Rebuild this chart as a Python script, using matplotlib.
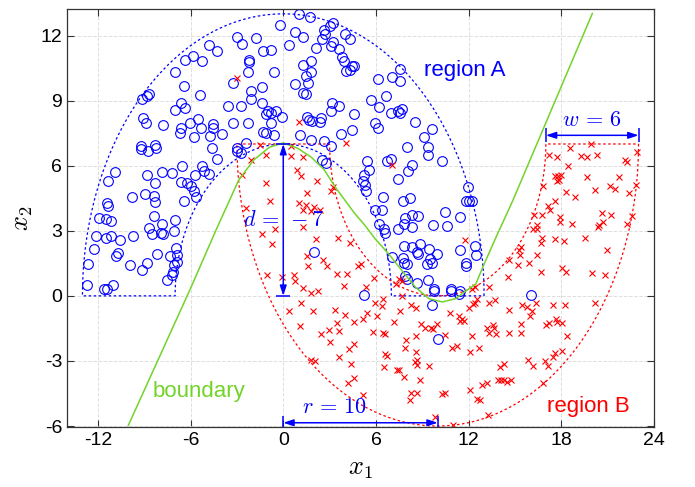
import numpy as np
import matplotlib
matplotlib.use('Agg')
import matplotlib.pyplot as plt

plt.rcParams['font.family'] = 'Liberation Sans'
plt.rcParams['mathtext.fontset'] = 'cm'
plt.rcParams['axes.unicode_minus'] = False

# moon parameters (radius, width, vertical distance)
radius = 10
width = 6
dist = -7

# region A samples (blue circles)
a_x = [-4.79, -5.83, -6.35, -5.27, -7.04, -6.42, -5.42, -8.69, -8.80, -9.16, -6.61, -7.00,
       -6.37, -9.08, -8.88, -7.78, -6.61, -6.70, -6.01, -5.53, -5.31, -4.55, -4.55, -5.75,
       -4.75, -9.20, -8.30, -4.64,
       1.02, 1.74, -0.23, 2.64, 3.01, 3.25, 2.71, 2.54, 0.76, 1.30, 4.01, 4.31, -3.02, -2.67,
       -1.79, -4.32, -1.31, -0.77, 0.35, 2.10, 3.12, 3.25, 3.60, 3.83, 3.90, 4.44, 4.59, 4.09,
       4.33, -2.22, -2.22, -2.26, -0.58, 1.28, 1.82, 1.82, 1.50, 1.63, 0.74, -3.24, -1.40,
       -2.11, -2.07, 1.30, 1.50, -3.56, -2.76, -1.40, -0.99, -0.82, -0.49, -1.10, -0.10,
       -0.77, -3.24, -2.26, -1.29, -1.14, -0.60, -3.95, -2.41, -2.98, 1.56, 1.67, 1.89, 2.43,
       2.38, 3.18, 3.62, 3.12, 4.55, 1.09, 1.78, 2.64, 3.77, 4.48, 3.08,
       7.55, 7.01, 7.53, 6.13, 6.62, 5.65, 6.19, 6.99, 7.44, 7.66, 7.53, 5.97, 6.13, 8.53,
       9.61, 9.11, 7.98, 9.37,
       -9.23, -8.73, -8.25, -10.89, -11.34, -8.84, -8.30, -7.82, -7.22, -6.57, -6.63, -6.20,
       -5.98, -5.74, -5.27, -5.12, -4.79, -5.77, -5.62, -6.44, -9.81, -8.95, -8.36, -8.30,
       -11.43, -11.37, -11.91, -11.50, -11.13, -8.40, -7.02, -8.69, -7.82, -8.51, -7.93,
       -7.78, -7.06, -12.12, -11.50, -11.15, -10.57, -9.72, -12.25, -10.70, -10.81, -8.19,
       -6.96, -7.35, -6.91, -7.06, -6.85, -8.82, -9.16, -9.92, -12.66, -7.17, -7.22, -7.50,
       -12.68, -11.60, -11.39, -11.02,
       -4.27, -2.98, -2.72, 2.54, 2.75, 1.99,
       9.39, 5.43, 5.54, 6.73, 6.95, 8.35, 8.07, 7.44, 10.30, 5.22, 5.17, 5.28, 5.37, 6.47,
       7.77, 8.20, 5.97, 6.36, 10.47, 11.44, 11.98, 11.81, 12.03, 12.24, 7.88, 8.31, 8.74,
       7.81, 8.31, 9.69, 10.62, 6.23, 6.52, 6.58, 7.44, 7.81, 8.31, 8.85, 8.68, 8.74, 9.43,
       9.97, 9.50, 9.61, 9.33, 7.75, 7.81, 8.03, 7.01, 11.44, 12.42, 12.50, 11.81, 11.81,
       7.88, 8.03, 8.68, 9.39, 9.76, 10.84, 11.42,
       9.65, 10.04, 9.76, 10.84, 11.38, 5.22, 16.05]
a_y = [11.57, 11.04, 10.88, 10.84, 10.30, 9.66, 9.26, 9.32, 9.23, 9.08, 8.87, 8.59,
       8.67, 8.21, 7.95, 7.87, 7.73, 7.52, 7.95, 8.13, 7.72, 7.90, 7.75, 7.32,
       7.37, 6.91, 6.94, 6.83,
       13.00, 12.84, 12.49, 12.26, 12.44, 12.60, 12.06, 11.85, 12.15, 11.91, 12.08, 11.85, 11.95, 11.60,
       11.88, 11.30, 11.30, 11.34, 11.57, 11.42, 11.53, 11.72, 11.37, 10.99, 10.81, 10.61, 10.58, 10.35,
       10.42, 10.85, 10.76, 10.33, 10.30, 10.65, 10.81, 10.32, 10.12, 9.81, 9.78, 9.81, 9.61,
       9.46, 9.08, 9.35, 9.31, 8.74, 8.77, 8.90, 8.51, 8.41, 8.54, 8.36, 8.24,
       7.98, 7.95, 7.95, 7.55, 7.49, 7.43, 7.47, 7.06, 6.83, 8.25, 8.10, 8.06, 8.21,
       8.01, 8.87, 8.77, 8.51, 8.39, 7.40, 7.17, 7.14, 7.47, 7.63, 6.91,
       10.46, 10.07, 9.92, 10.01, 9.23, 9.02, 8.71, 8.41, 8.51, 8.62, 8.44, 7.98, 7.72, 8.01,
       7.67, 7.32, 6.88, 6.88,
       6.78, 6.69, 6.81, 5.71, 5.28, 5.59, 5.22, 5.71, 5.66, 5.97, 5.25, 5.20,
       5.05, 5.59, 5.97, 5.77, 5.62, 4.85, 4.55, 4.36, 4.55, 4.70, 4.62, 4.32,
       4.29, 4.16, 3.60, 3.55, 3.45, 3.68, 3.48, 3.14, 3.29, 2.83, 2.91,
       2.83, 2.99, 2.76, 2.65, 2.74, 2.56, 2.76, 2.15, 1.96, 1.84, 1.92,
       2.22, 1.84, 1.89, 1.43, 1.54, 1.50, 1.18, 1.44, 1.46, 1.08, 0.95, 0.74,
       0.51, 0.31, 0.31, 0.51,
       6.32, 6.66, 6.58, 6.27, 6.12, 2.00,
       6.50, 6.23, 5.82, 6.20, 6.32, 6.01, 5.74, 5.40, 6.20, 5.59, 5.28, 5.13, 4.85, 4.55,
       4.39, 4.49, 3.98, 3.98, 3.86, 3.64, 5.01, 4.36, 4.39, 4.36, 3.60, 3.71, 3.66,
       3.32, 3.19, 3.26, 3.22, 3.29, 3.06, 2.91, 3.09, 2.30, 2.25, 2.41, 2.04, 1.95, 2.15,
       1.95, 1.69, 1.53, 1.49, 1.76, 1.53, 1.49, 1.79, 2.10, 2.30, 1.89, 1.53, 1.38,
       0.92, 0.77, 0.57, 0.72, 0.31, 0.31, 0.23,
       -0.43, -2.00, 0.22, 0.22, 0.07, 0.02, 0.02]

# region B samples (red crosses)
b_x = [-2.98, 1.02, 4.05, -1.51, 0.48, 18.56, 19.90,
       -1.14, 0.48, 1.30, -2.11, 0.87, 1.17, 2.21, -2.65, -1.14, 1.56, 3.08, 3.25, -0.86,
       1.02, 1.45, 1.99, 1.30, 1.78, 2.38, -2.39, -0.56, 1.30, -1.36, -0.71, 2.10, 3.55,
       4.33, 1.56, 2.60, 2.82, 1.61, 3.47, 4.11, 4.85, 5.02, -1.03, -0.05, 0.70, 0.74, 1.30,
       3.94,
       7.06, 11.77, 14.62, 14.58, 5.87, 7.27, 7.70, 7.49, 5.33, 12.42, 12.24, 13.33,
       17.20, 17.74, 19.25, 19.64, 20.29, 22.10, 22.23, 22.88, 18.45, 17.59, 17.78, 17.95,
       17.74, 17.84, 19.64, 21.74, 16.83, 20.18, 21.15, 21.45, 22.82, 22.38, 18.28, 18.86,
       17.56, 17.13, 17.26, 16.22, 16.76, 17.91, 17.91, 18.71, 20.65, 21.24, 22.60, 22.28,
       20.72, 20.44, 20.37, 16.44, 16.18, 16.40, 16.76, 16.66, 17.59, 18.17, 19.51, 15.36,
       15.25, 15.32, 16.44, 20.98, 15.19, 15.90, 16.66, 18.06, 18.32, 19.96, 20.81,
       15.47, 15.75, 16.33, 17.48, 18.21, 20.18, 16.11, 15.96, 15.42, 15.42, 16.98, 17.20,
       17.63, 17.74, 18.06, 18.38, 18.06, 17.59, 17.46, 16.94, 17.15, 15.83, 16.18, 16.81,
       1.78, 2.25, 1.17, 0.37, 1.95, 3.34, 3.98, 3.51, 4.59, 5.13, 1.07, 2.47, 2.97, 3.62,
       3.03, 4.55, 4.27, 3.62, 1.78, 2.04, 4.37, 4.59, 4.16, 5.13,
       5.93, 6.45, 6.41, 7.66, 5.43, 6.08, 7.16, 8.24, 8.57, 7.53, 5.82, 6.45, 6.58, 8.89,
       9.17, 9.54, 9.97, 9.69, 8.57, 7.92, 7.88, 8.57, 10.47, 10.95, 11.23, 12.09, 12.68,
       6.58, 6.73, 8.68, 8.53, 8.68, 9.43, 6.52, 7.34, 7.49, 7.81, 8.83, 8.24, 8.68, 8.20,
       10.30, 10.47, 12.07, 12.53, 12.72, 12.85, 13.22, 13.87, 14.08, 14.30, 14.51, 14.73,
       14.04, 14.30, 13.28, 9.82, 10.99, 10.77, 11.38, 11.60, 11.42, 11.70, 12.03, 12.29,
       12.42, 12.57, 12.24, 13.22, 13.65, 13.33, 13.76, 13.58, 13.33, 13.71, 14.62, 14.62]
b_y = [10.04, 8.01, 7.06, 6.94, 6.91, 6.83, 6.98,
       6.50, 6.43, 6.38, 6.27, 5.82, 5.54, 5.28, 5.59, 5.20, 4.75, 4.85, 5.01, 4.36,
       4.29, 4.21, 4.09, 3.94, 3.90, 3.94, 4.03, 3.06, 3.17, 2.86, 2.41, 2.64, 2.68,
       2.45, 1.84, 1.64, 1.38, 1.38, 1.03, 1.00, 1.38, 1.46, 0.95, 0.88, 0.95, 0.69, 0.36,
       0.46,
       6.01, 2.56, 1.64, 0.85, 0.80, 0.54, 0.69, 0.77, 0.39, 0.39, 0.31, 0.39,
       6.50, 6.38, 6.43, 6.38, 6.50, 6.27, 6.17, 6.63, 5.97, 5.51, 5.51, 5.56,
       5.28, 5.36, 5.46, 5.48, 5.08, 4.90, 5.08, 4.93, 5.13, 4.72, 4.78, 4.56,
       4.39, 4.13, 3.98, 3.72, 3.72, 3.64, 3.42, 3.32, 3.80, 3.71, 3.68, 3.32,
       3.42, 3.26, 3.17, 3.26, 3.06, 3.09, 2.65, 2.45, 2.61, 2.53, 2.65, 2.25,
       2.10, 1.89, 1.89, 2.10, 1.43, 1.50, 1.08, 1.27, 1.12, 1.05, 0.95,
       -0.43, -0.50, -0.34, -0.43, -0.43, -0.34, -0.69, -0.92, -1.31, -1.73, -1.35, -1.27,
       -1.05, -1.20, -1.26, -1.84, -2.53, -2.65, -2.83, -2.99, -3.22, -2.94, -3.25, -4.01,
       0.12, 0.22, -0.34, -0.69, -0.69, -0.65, -0.89, -1.23, -1.20, -1.05, -1.41, -1.76, -1.57, -1.61,
       -2.15, -2.22, -2.45, -2.83, -2.96, -2.99, -3.14, -3.80, -4.01, -4.56,
       -0.31, -0.13, -0.46, -0.01, -0.77, -0.92, -1.20, -0.43, -0.54, -0.69, -1.66, -1.69, -1.76, -1.31,
       -1.46, -1.50, -1.31, -1.53, -1.84, -2.04, -2.42, -2.57, -1.81, -2.42, -2.33, -2.57, -2.42,
       -2.68, -2.79, -2.94, -3.06, -3.19, -3.25, -3.29, -3.40, -3.42, -3.75, -3.90, -4.47, -4.47, -4.82,
       -4.52, -4.47, -4.36, -4.75, -4.82, -4.10, -4.01, -3.86, -3.90, -3.86, -3.95, -3.90,
       -3.29, -3.14, -5.51, -5.59, -5.94, -0.80, -0.92, -1.08, -1.15, -1.15, -0.54, -0.39,
       -0.31, -0.16, -1.84, -1.50, -1.46, -1.69, -1.76, -1.35, -0.34, -0.19, -0.65, -1.69]

# decision boundary
bound_x = [-10.03, -6.03, -4.36, -2.87, -1.90, -0.90, 0.00, 0.91, 1.80, 2.64, 3.40, 4.00, 4.59,
           5.24, 5.97, 6.84, 7.70, 8.57, 9.43, 10.30, 11.16, 11.81, 12.46, 13.00, 13.76, 14.84, 20.01]
bound_y = [-5.97, 0.30, 3.02, 5.36, 6.27, 6.85, 7.05, 6.81, 6.40, 5.82, 4.98, 4.40, 3.83,
           3.29, 2.61, 1.92, 1.15, 0.39, -0.13, -0.28, -0.13, 0.22, 0.54, 1.46, 2.68, 4.36, 13.02]

blue = '#0000ff'
red = '#ff0000'
green = '#72d32a'

fig = plt.figure(figsize=(6.95, 4.87), dpi=100)
ax = fig.add_axes([0.0964, 0.123, 0.8446, 0.8575])

# region outlines
t = np.linspace(0, np.pi, 200)
r_in = radius - width / 2
r_out = radius + width / 2
ox_a = np.concatenate([r_out * np.cos(t), [-r_out, -r_in], r_in * np.cos(t[::-1]), [r_in, r_out]])
oy_a = np.concatenate([r_out * np.sin(t), [0, 0], r_in * np.sin(t[::-1]), [0, 0]])
ax.plot(ox_a, oy_a, color=blue, ls=(0, (2, 2)), lw=0.9)
cx, cy = radius, -dist
ox_b = np.concatenate([cx + r_out * np.cos(t), [cx - r_out, cx - r_in], cx + r_in * np.cos(t[::-1]),
                       [cx + r_in, cx + r_out]])
oy_b = np.concatenate([cy - r_out * np.sin(t), [cy, cy], cy - r_in * np.sin(t[::-1]), [cy, cy]])
ax.plot(ox_b, oy_b, color=red, ls=(0, (2, 2)), lw=0.9)

# samples
ax.plot(a_x, a_y, 'o', mfc='none', mec=blue, ms=7, mew=0.8)
ax.plot(b_x, b_y, 'x', color=red, ms=4.8, mew=0.8)

# boundary
ax.plot(bound_x, bound_y, color=green, lw=1.1)

# dimension arrows
arrow = dict(arrowstyle='<|-|>,head_length=0.6,head_width=0.2', color=blue, lw=1.1,
             shrinkA=0, shrinkB=0)
ax.annotate('', xy=(0, 0), xytext=(0, -dist), arrowprops=arrow)
ax.plot([0, 0], [0, -dist], ls='none', marker='_', color=blue, ms=10, mew=1.1)
ax.text(0, 3.48, r'$d\,=\,-7$', color=blue, fontsize=16, ha='center', va='center')

y_r = -5.85
ax.annotate('', xy=(radius, y_r), xytext=(0, y_r), arrowprops=arrow)
ax.plot([0, radius], [y_r, y_r], ls='none', marker='|', color=blue, ms=10, mew=1.1)
ax.text(3.34, -5.13, r'$r\,=\,10$', color=blue, fontsize=16, ha='center', va='center')

y_w = 7.4
ax.annotate('', xy=(cx + r_out, y_w), xytext=(cx + r_in, y_w), arrowprops=arrow)
ax.plot([cx + r_in, cx + r_out], [y_w, y_w], ls='none', marker='|', color=blue, ms=10, mew=1.1)
ax.text(20, 8.1, r'$w\,=\,6$', color=blue, fontsize=16, ha='center', va='center')

# labels
ax.text(9.1, 10.4, 'region A', color=blue, fontsize=16, va='center')
ax.text(17.1, -5.1, 'region B', color=red, fontsize=16, va='center')
ax.text(-8.43, -4.4, 'boundary', color=green, fontsize=16, va='center')

ax.set_xlim(-14, 24)
ax.set_ylim(-6.05, 13.2)
ax.set_xticks(np.arange(-12, 25, 6))
ax.set_yticks(np.arange(-6, 13, 3))
ax.tick_params(direction='in', top=True, right=True, labelsize=14, length=5, color='#333333')
ax.grid(True, ls='--', color='#dedede', lw=0.7)
ax.set_axisbelow(True)
for s in ax.spines.values():
    s.set_color('#333333')
    s.set_linewidth(0.9)

ax.set_xlabel('$x_1$', fontsize=19, labelpad=6)
ax.set_ylabel('$x_2$', fontsize=19, labelpad=4)

fig.savefig('out.png', dpi=100)
